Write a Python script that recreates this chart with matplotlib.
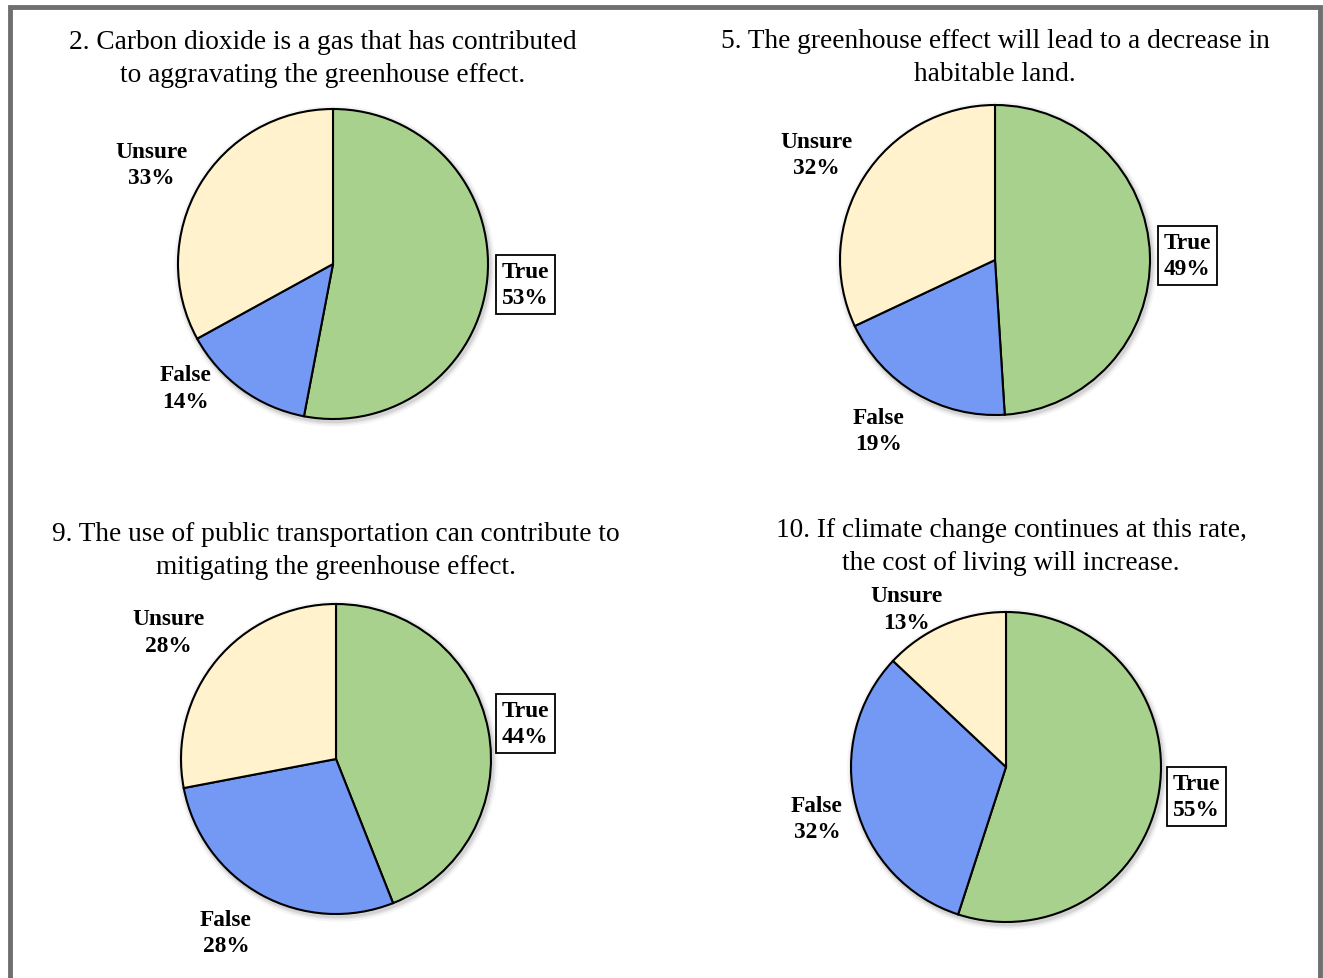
import matplotlib.pyplot as plt
from matplotlib.patches import Circle, Rectangle

plt.rcParams["font.family"] = ["Liberation Serif", "DejaVu Serif"]

# Datos de las cuatro preguntas
titles = [
    "2. Carbon dioxide is a gas that has contributed\nto aggravating the greenhouse effect.",
    "5. The greenhouse effect will lead to a decrease in\nhabitable land.",
    "9. The use of public transportation can contribute to\nmitigating the greenhouse effect.",
    "10. If climate change continues at this rate,\nthe cost of living will increase.",
]
categories = ["True", "False", "Unsure"]
true_pct = [53, 49, 44, 55]
false_pct = [14, 19, 28, 32]
unsure_pct = [33, 32, 28, 13]

colors = ["#a9d18e", "#7399f5", "#fff2cc"]

# layout en pixeles (centro de cada pastel, centro del titulo)
W, H = 1323, 979
R = 155
centers = [(333, 265), (995, 261), (336, 760), (1006, 768)]
title_pos = [(323, 59), (995, 58), (336, 551), (1011, 547)]
# posiciones de etiquetas en unidades de radio: True, False, Unsure
label_pos = [
    [(1.24, -0.13), (-0.95, -0.80), (-1.17, 0.64)],
    [(1.24, 0.03), (-0.75, -1.10), (-1.15, 0.68)],
    [(1.22, 0.23), (-0.71, -1.12), (-1.08, 0.82)],
    [(1.23, -0.19), (-1.22, -0.33), (-0.64, 1.02)],
]

fig = plt.figure(figsize=(W / 100, H / 100), dpi=100)

# marco gris exterior
fig.patches.append(
    Rectangle((10 / W, -0.05), 1310 / W, 1 - 8 / H + 0.05, transform=fig.transFigure,
              fill=False, edgecolor="#6f6f6f", linewidth=3.5)
)

S = 420
for i in range(4):
    cx, cy = centers[i]
    ax = fig.add_axes([(cx - S / 2) / W, 1 - (cy + S / 2) / H, S / W, S / H])
    lim = S / 2 / R

    # sombra suave
    for k, a in [(1.035, 0.04), (1.022, 0.06), (1.012, 0.08)]:
        ax.add_patch(Circle((0.01, -0.015), k, color="black", alpha=a, lw=0, zorder=0))

    vals = [true_pct[i], false_pct[i], unsure_pct[i]]
    ax.pie(vals, colors=colors, startangle=90, counterclock=False, radius=1,
           wedgeprops=dict(edgecolor="black", linewidth=1.5), frame=True)
    ax.set_xlim(-lim, lim)
    ax.set_ylim(-lim, lim)
    ax.set_aspect("equal")
    ax.axis("off")

    for j, cat in enumerate(categories):
        lx, ly = label_pos[i][j]
        kw = {}
        if cat == "True":
            kw["bbox"] = dict(boxstyle="square,pad=0.25", facecolor="white",
                              edgecolor="black", linewidth=1.3)
        ax.text(lx, ly, f"{cat}\n{vals[j]}%", ha="center", va="center",
                fontsize=16.8, fontweight="bold", linespacing=1.33, **kw)

    tx, ty = title_pos[i]
    fig.text(tx / W, 1 - ty / H, titles[i], ha="center", va="center",
             fontsize=19.7, linespacing=1.45)

plt.savefig("out.png", dpi=100)
